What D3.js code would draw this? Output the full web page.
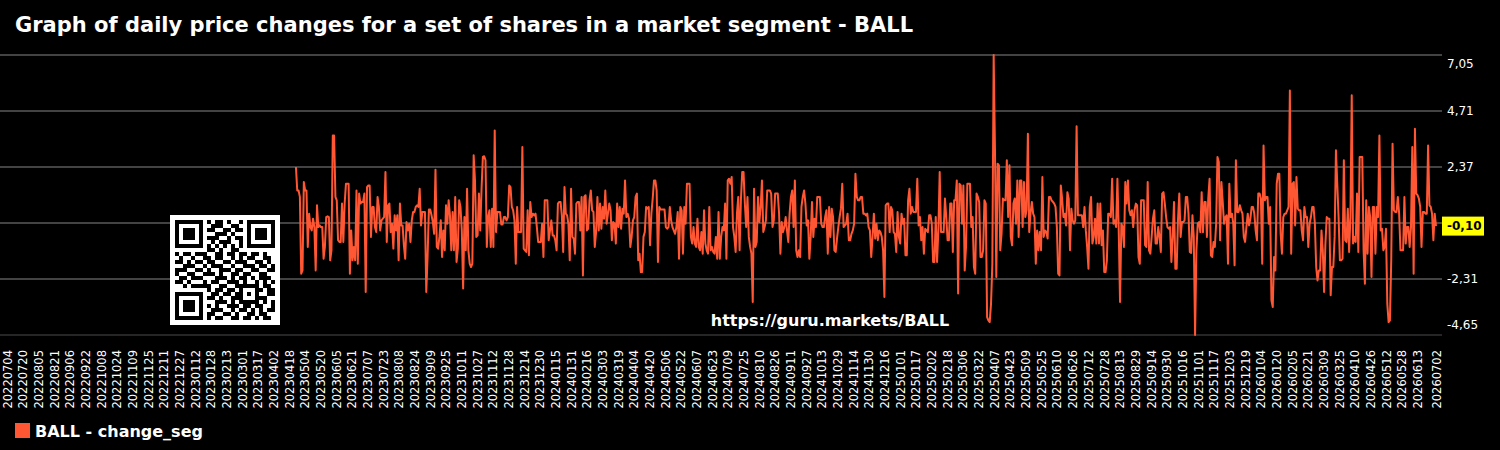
<!DOCTYPE html>
<html>
<head>
<meta charset="utf-8">
<script src="https://cdn.jsdelivr.net/npm/d3@7"></script>
<style>
  body { margin: 0; background: #000; }
  svg { display: block; font-family: 'DejaVu Sans', sans-serif; }
</style>
</head>
<body>
<script>
const ticker = 'BALL';
const seriesName = 'BALL - change_seg';
const siteUrl = 'https://guru.markets/BALL';
const dataStart = '20230425';
const dataEnd = '20260702';

const yTicks = [7.05, 4.71, 2.37, 0.03, -2.31, -4.65];

const xTickLabels = [
  '20220704','20220720','20220805','20220821','20220906','20220922','20221008','20221024','20221109','20221125','20221211','20221227',
  '20230112','20230128','20230213','20230301','20230317','20230402','20230418','20230504','20230520','20230605','20230621','20230707',
  '20230723','20230808','20230824','20230909','20230925','20231011','20231027','20231112','20231128','20231214','20231230',
  '20240115','20240131','20240216','20240303','20240319','20240404','20240420','20240506','20240522','20240607','20240623','20240709',
  '20240725','20240810','20240826','20240911','20240927','20241013','20241029','20241114','20241130','20241216',
  '20250101','20250117','20250202','20250218','20250306','20250322','20250407','20250423','20250509','20250525','20250610','20250626',
  '20250712','20250728','20250813','20250829','20250914','20250930','20251016','20251101','20251117','20251203','20251219',
  '20260104','20260120','20260205','20260221','20260309','20260325','20260410','20260426','20260512','20260528','20260613','20260702'
];

// daily change, % (oldest first)
const changes = [
  2.37, 1.39, 1.39, 1.12, -2.09, -1.95, 1.74, 1.39, 1.39, -0.97, 0.42, -0.14, -0.28, 0.21, -0.14, -1.95, 0.77, -0.14, -0.07, -0.14,
  -0.14, -1.46, -0.97, 0.28, 0.31, 0.28, -1.53, -1.11, 3.69, 3.69, 1.12, 0.98, -0.69, -0.76, -0.76, 0.84, -0.76, 0.84, 1.67, 1.67,
  1.67, -2.09, -0.28, -1.53, -0.97, -1.53, 1.39, -1.67, 1.26, 0.84, 0.91, 0.91, 1.26, -2.85, 1.53, 1.60, 1.60, -0.55, 0.70, 0.70,
  -0.14, -0.35, 1.12, 0.70, -0.28, 0.14, 0.21, 0.28, 2.16, -0.76, 0.77, 0.84, -0.35, 0.00, -1.04, 0.35, -0.28, 0.35, -1.53, 0.84,
  -0.07, -0.07, -0.90, -1.46, 0.07, -0.28, 0.00, -0.76, 0.14, 0.49, 0.49, 0.70, 0.77, 0.70, 1.46, -0.07, 0.49, 0.49, 0.49, -2.85,
  -1.39, 0.59, 0.59, 0.35, 0.07, -0.42, 2.26, -0.97, -1.04, -0.55, 0.14, -1.39, -0.28, -1.11, 0.77, 0.00, 0.98, 0.35, -1.11, 0.49,
  -1.11, 1.12, -1.60, -1.04, 0.98, 0.70, -0.28, -2.71, 0.28, -1.11, 1.46, -1.11, -1.67, -1.81, -1.67, 2.86, 1.81, -0.55, -0.49, 1.26,
  -0.28, 1.46, 2.79, 2.82, 2.65, -0.97, 0.28, 0.56, -0.97, 0.63, -0.97, 3.90, -0.35, 0.49, 0.49, 0.49, -0.03, -0.03, 0.28, 0.28,
  0.14, 0.28, 1.60, 1.53, 0.70, 0.56, 0.14, -1.67, 0.70, -0.35, -0.35, -0.35, 3.21, -1.04, -1.11, -1.18, 0.56, -1.32, 0.91, 0.28,
  0.42, 0.35, 0.42, -0.14, -0.76, -0.76, -0.76, 0.00, -1.39, 0.98, 0.98, 0.98, -0.69, -0.28, 0.14, -0.49, -0.49, -0.69, -1.11, 0.84,
  0.91, 0.91, 0.35, -1.18, 1.53, 0.42, 0.35, -0.03, -1.53, 1.46, -0.55, -0.62, -1.25, 0.84, 0.91, 0.91,
  -0.28, 1.12, -2.16, 1.12, 1.19, -0.28, -0.21, 0.98, 1.39, 0.56, 0.49, -0.97, -0.35, 1.12, -0.28, 0.84, -0.21, 0.70, 0.21, 1.39,
  0.00, 0.42, 0.84, 0.56, -0.69, 0.07, 0.00, -0.83, 0.84, -0.14, 0.70, -0.21, 0.63, 0.42, 1.81, 0.28, 0.42, 0.21, -0.97, -0.55,
  0.14, 0.28, 1.12, 1.26, -1.53, -1.25, -2.02, -2.02, -0.55, -0.35, 0.70, 0.63, 0.70, -0.90, 0.42, 1.05, 1.81, 1.81, 1.39, -1.60,
  0.70, 0.59, 0.59, 0.59, 0.59, -0.14, -0.21, -0.14, 0.70, 0.14, -0.14, -0.28, -0.42, -0.14, 0.49, -1.46, 0.70, 0.56, -1.25, 0.70,
  0.00, 1.67, 1.67, 1.67, -0.55, -0.83, -0.14, -0.83, -0.97, 0.21, -0.97, -1.11, -0.35, -1.25, 0.56, -0.83, -1.11, -1.25, 0.70, -1.11,
  -0.97, -1.18, -1.25, -0.55, -1.46, 0.49, -1.46, -0.55, -0.14, -0.28, 0.84, -1.46, 1.81, 1.88, 1.67, 1.95, -0.14, -0.55, -1.18, 0.42,
  1.12, -1.11, 0.98, 2.16, 2.16, 0.84, -0.14, 1.12, -0.55, -0.97, -1.25, -3.27, 1.46, -0.97, -0.76, 1.12, 0.07, 0.70, 1.81, -0.35,
  -0.14, 0.14, 1.39, 1.39, 1.39, 1.26, -0.14, 0.14, 1.26, 1.26, 1.26, 0.42, -1.25, 0.07, -0.35, -0.14, 0.28, -0.28, -0.76, 0.42,
  1.12, 1.39, -0.14, 1.81, -1.11, -1.39, -1.11, -1.39, 0.70, 1.12, 1.39, 0.84, -0.07, 0.14, -1.46, -0.55, 0.91, -0.55, 0.21, -0.14,
  1.12, 1.12, 1.12, 0.00, -0.14, -0.14, 0.28, 0.56, -1.25, 0.70, -0.55, 0.63, 0.28, -1.11, -1.18, -0.62, -0.14, 0.28, 0.63, 1.67,
  -0.14, -0.07, 0.00, 0.42, -0.69, -0.69, -0.42, -0.28, 0.00, 2.09, 1.12, 0.98, 0.98,
  1.12, 1.12, 0.42, 0.42, 0.35, 0.42, -0.14, -0.28, -1.39, -0.55, 0.42, -0.62, 0.00, -0.69, -0.28, -0.35, -0.55, -1.11, -3.06, 0.77,
  0.84, 0.84, -0.35, 0.70, 0.56, -0.35, -0.42, -1.18, 0.49, -0.55, -0.83, 0.42, 0.00, 0.21, -1.32, -1.32, 0.98, 1.46, 0.42, 0.70,
  0.49, 0.49, 0.49, 1.88, -0.07, 0.28, -0.69, -0.14, -1.25, -0.21, -0.28, -0.35, 0.35, 0.35, 0.00, -1.60, -1.60, 0.28, -1.60, -0.28,
  2.16, -0.35, -0.35, -0.35, 1.05, 0.28, -0.69, -0.69, 0.84, 0.84, -1.18, 0.98, 0.98, 1.81, -2.92, 1.67, 1.60, 0.00, 1.60, -1.95,
  -0.97, 1.67, 1.67, 1.67, -0.14, 0.28, -1.81, -2.09, 1.26, 1.12, 0.91, -1.39, -1.39, -1.11, 0.98, 0.84, -3.90, -4.04, -4.11, -3.34,
  -1.67, 7.05, 3.07, -2.23, 2.51, 2.44, -1.11, -0.42, 1.05, 0.98, 0.98, 2.65, 0.28, 2.44, -0.55, -0.90, 0.84, 1.05, 0.00, 1.81,
  -0.55, 1.81, 1.81, -0.14, 1.74, 0.28, 0.56, 3.76, -0.35, 0.42, 0.91, 0.42, 0.28, -1.67, -0.28, -1.11, -0.35, -1.11, 1.95, -0.55,
  -0.28, -0.35, -0.62, 1.12, 1.12, 0.98, 0.91, 0.84, 0.70, -0.14, -2.09, -2.16, 1.60, 1.05, 0.28, 0.42, -0.07, 1.32, 1.05, -1.11,
  0.63, 0.14, 0.00, 0.14, 4.07, 0.35, 0.35, 0.35, 0.35, -0.14, 0.70, -0.28, -0.97, -1.88, 0.70, 1.12, -0.83, -0.55, 0.21, -0.83,
  0.84, -0.83, 0.84, -0.90, -0.28, -2.02, -2.02, -1.53, 0.42, 0.42, 0.28, 1.88, 0.00, 0.14, -0.14, 1.88, -0.28, -3.27, 0.00, -0.14,
  -0.97, 1.74, 0.84, 1.81, 0.56, 0.35, 0.56, -0.14, 0.56, 0.84, 0.77, -1.39, -1.67, 0.98, 0.98, 0.98, -0.90, -0.97, 1.74,
  -1.11, -1.25, -0.55, 0.21, 0.56, -0.83, -0.83, -0.14, -0.55, -1.18, 1.26, 1.32, 0.84, 0.28, -0.14, -0.21, -0.14, -1.60, -0.55, 0.91,
  -1.88, -1.88, 0.14, 1.26, -0.55, 0.07, 0.07, 0.14, 1.12, 1.12, 0.42, -1.18, -1.22, 0.35, -0.55, -4.65, -1.11, 0.00, 0.07, -0.35,
  1.32, -0.35, 0.91, 0.91, -0.55, 1.05, 1.88, -1.32, -1.39, -0.76, -0.97, 0.00, 2.79, 2.58, -0.69, 1.74, 0.91, 0.00, 0.28, 0.35,
  -1.67, 1.67, 0.28, 0.42, 0.00, -1.74, 2.65, 0.49, 0.49, 0.77, 0.56, 0.42, -0.55, -0.76, -0.14, 0.42, -0.07, 0.21, 0.70, 0.70,
  0.42, -0.28, -0.69, 1.26, 1.26, 1.05, -1.67, 3.27, 0.98, 1.12, 1.12, 0.00, 0.70, -3.20, -3.48, -1.39, -1.95, 1.67, 2.09, 2.09,
  -0.42, -1.25, 0.28, 0.42, 0.42, 0.56, 0.70, 5.57, -1.25, 1.67, 1.74, -0.07, 1.95, 0.63, 0.56, 0.56, -0.28, -0.69, 0.70, 0.28,
  0.28, -0.97, 0.00, 0.28, 0.70, 0.70, 0.00, -1.81, -2.37, -1.95, -1.95, -0.28, -1.11, -2.85, -0.83, 0.28, 0.21, 0.21, -2.99, -1.81,
  -1.81, -0.55, 3.07, 1.67, 0.28, -1.53, -1.53, -1.46, 2.65, -0.69, -0.76, 0.63, -1.18, 0.28, 5.37, -0.83, -0.55, -0.76, 1.26, -1.18,
  2.79, 2.79, 2.79, -1.11, -2.51, 0.98, -1.25, 0.70, 0.28, -2.23, 0.70, 0.70, -1.25, 0.70, 0.28, 3.69, -0.28, -0.21, -1.11, -0.97,
  -0.21, -3.34, -4.11, -4.04, -1.53, 3.34, 0.56, 0.49, 0.49, 1.12, 0.42, -1.11, -1.11, -1.11, 1.12, -0.83, -0.14, -0.14, -0.97, -0.14,
  3.21, -2.09, 3.97, 1.26, 1.19, 1.05, 0.70, -0.97, 0.49, 0.49, 0.42, 0.42, 3.27, 0.77, 0.70, 0.42, -0.69, 0.42, -0.10
];

// QR code modules, 25 x 25
const qrRows = [
  '1111111010110100101111111',
  '1000001001110011001000001',
  '1011101011001101101011101',
  '1011101000111010001011101',
  '1011101011100101101011101',
  '1000001001011100101000001',
  '1111111010101010101111111',
  '0000000011010011000000000',
  '1011011100110110110110100',
  '0100100110110010101100110',
  '1101011011001101110011010',
  '0011100101110010011101101',
  '1110011010011101100110011',
  '1001100111010011011001100',
  '0110111000111010110101110',
  '1101000101100111010010101',
  '0010111110011001111110110',
  '0000000010110110100011011',
  '1111111001101101101010011',
  '1000001011010011100011100',
  '1011101000111010111110101',
  '1011101010100111011011001',
  '1011101001110010110101011',
  '1000001011001101001101100',
  '1111111010110011011010110'
];

const W = 1500, H = 450;
const lineColor = '#ff5733';
const parseDay = d3.timeParse('%Y%m%d');
const fmtDay = d3.timeFormat('%Y%m%d');
const locale = d3.formatLocale({ decimal: ',', thousands: '.', grouping: [3], currency: ['', ''], minus: '-' });
const fmtVal = locale.format('.2f');

const svg = d3.select('body').append('svg')
  .attr('width', W)
  .attr('height', H)
  .attr('viewBox', [0, 0, W, H]);

svg.append('rect').attr('width', W).attr('height', H).attr('fill', '#000');

const tickDates = xTickLabels.map(parseDay);
const x = d3.scaleTime()
  .domain([tickDates[0], tickDates[tickDates.length - 1]])
  .range([7, 1436]);

const y = d3.scaleLinear()
  .domain([d3.min(yTicks), d3.max(yTicks)])
  .range([335, 55]);

// data dates spread evenly between first and last sample
const t0 = parseDay(dataStart), t1 = parseDay(dataEnd);
const points = changes.map((v, i) => ({
  date: new Date(+t0 + (t1 - t0) * i / (changes.length - 1)),
  value: v
}));
const last = points[points.length - 1];

// title
svg.append('text')
  .attr('x', 15)
  .attr('y', 32)
  .attr('fill', '#fff')
  .attr('font-size', 21)
  .attr('font-weight', 'bold')
  .text('Graph of daily price changes for a set of shares in a market segment - ' + ticker);

// grid lines
svg.append('g')
  .selectAll('line')
  .data(yTicks)
  .enter().append('line')
    .attr('x1', 0)
    .attr('x2', 1442)
    .attr('y1', d => y(d))
    .attr('y2', d => y(d))
    .attr('stroke', (d, i) => i === yTicks.length - 1 ? '#333' : '#5a5a5a')
    .attr('stroke-width', 1.6);

// right labels (the one hidden behind the last value marker is skipped)
svg.append('g')
  .selectAll('text')
  .data(yTicks.filter(d => Math.abs(y(d) - y(last.value)) > 14))
  .enter().append('text')
    .attr('x', 1447)
    .attr('y', d => y(d) + (d === d3.max(yTicks) ? 9 : d === d3.min(yTicks) ? -10 : 0))
    .attr('dy', '0.35em')
    .attr('fill', '#fff')
    .attr('font-size', 12)
    .text(d => fmtVal(d));

// x axis
const xAxis = svg.append('g')
  .attr('transform', 'translate(0,335)')
  .call(d3.axisBottom(x).tickValues(tickDates).tickFormat(fmtDay).tickSize(0));
xAxis.select('.domain').remove();
xAxis.attr('font-family', null).attr('font-size', null);
xAxis.selectAll('text')
  .attr('x', -15)
  .attr('y', 0)
  .attr('dy', '0.35em')
  .attr('transform', 'rotate(-90)')
  .style('text-anchor', 'end')
  .attr('fill', '#fff')
  .attr('font-size', 11.5);

// QR code
const qr = svg.append('g').attr('transform', 'translate(170,215)');
qr.append('rect').attr('width', 110).attr('height', 110).attr('fill', '#fff');
qrRows.forEach((row, r) => {
  row.split('').forEach((b, c) => {
    if (b === '1') {
      qr.append('rect')
        .attr('x', 5 + c * 4)
        .attr('y', 5 + r * 4)
        .attr('width', 4)
        .attr('height', 4)
        .attr('fill', '#000');
    }
  });
});

// watermark
svg.append('text')
  .attr('x', 830)
  .attr('y', 326)
  .attr('text-anchor', 'middle')
  .attr('fill', '#fff')
  .attr('font-size', 16)
  .attr('font-weight', 'bold')
  .text(siteUrl);

// series line
const line = d3.line()
  .x(d => x(d.date))
  .y(d => y(d.value));

svg.append('path')
  .datum(points)
  .attr('fill', 'none')
  .attr('stroke', lineColor)
  .attr('stroke-width', 2)
  .attr('stroke-linejoin', 'round')
  .attr('d', line);

// last value marker
svg.append('rect')
  .attr('x', 1442)
  .attr('y', y(last.value) - 9.5)
  .attr('width', 42)
  .attr('height', 19)
  .attr('fill', '#ffff00');
svg.append('text')
  .attr('x', 1447)
  .attr('y', y(last.value))
  .attr('dy', '0.35em')
  .attr('fill', '#000')
  .attr('font-size', 12)
  .attr('font-weight', 'bold')
  .text(fmtVal(last.value));

// legend
svg.append('rect')
  .attr('x', 15)
  .attr('y', 423)
  .attr('width', 15)
  .attr('height', 15)
  .attr('fill', lineColor);
svg.append('text')
  .attr('x', 35)
  .attr('y', 437)
  .attr('fill', '#fff')
  .attr('font-size', 16)
  .attr('font-weight', 'bold')
  .text(seriesName);
</script>
</body>
</html>
